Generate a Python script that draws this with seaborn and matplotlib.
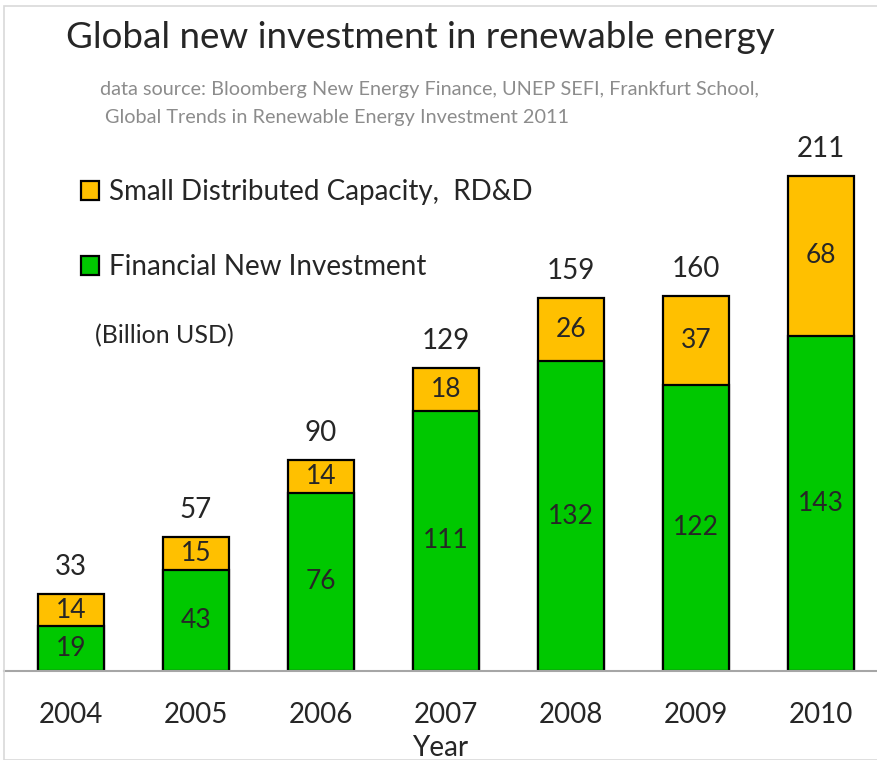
import matplotlib.pyplot as plt
import seaborn as sns
from matplotlib.patches import Rectangle

# values (billion USD)
years = ['2004', '2005', '2006', '2007', '2008', '2009', '2010']
financial = [19, 43, 76, 111, 132, 122, 143]
small_rdd = [14, 15, 14, 18, 26, 37, 68]
totals = [33, 57, 90, 129, 159, 160, 211]

GREEN = '#00c800'
ORANGE = '#ffc000'
FONT = 'Lato'

W, H = 877, 760
PX_PER_UNIT = 2.346


def fx(px):
    return px / W


def fy(py):
    return 1 - py / H


sns.set_theme(style='white')
plt.rcParams['font.family'] = [FONT, 'DejaVu Sans']

fig = plt.figure(figsize=(W / 100, H / 100), dpi=100, facecolor='white')
ax = fig.add_axes([fx(4), fy(671), 1 - fx(4), 671 / H])

# stacked bars: total in orange underneath, green financial on top
sns.barplot(x=years, y=totals, color=ORANGE, saturation=1, width=0.53,
            edgecolor='black', linewidth=1.6, label='Small Distributed Capacity,  RD&D', ax=ax)
sns.barplot(x=years, y=financial, color=GREEN, saturation=1, width=0.53,
            edgecolor='black', linewidth=1.6, label='Financial New Investment', ax=ax)

ax.set_xlim(-0.536, 6.448)
ax.set_ylim(0, 671 / PX_PER_UNIT)

for i, (g, o, t) in enumerate(zip(financial, small_rdd, totals)):
    ax.text(i, g / 2, str(g), ha='center', va='center', fontsize=19)
    ax.text(i, t - (t - g) / 2, str(o), ha='center', va='center', fontsize=19)
    ax.text(i, t + 27 / PX_PER_UNIT, str(t), ha='center', va='center', fontsize=20)

for s in ['top', 'left', 'right']:
    ax.spines[s].set_visible(False)
ax.spines['bottom'].set_color('#a6a6a6')
ax.spines['bottom'].set_linewidth(1.5)
ax.set_yticks([])
ax.tick_params(axis='x', length=0, pad=22.5, labelsize=20)
ax.set_xlabel('Year', fontsize=20, labelpad=5)
ax.set_ylabel('')

leg = ax.legend(loc='upper left', bbox_to_anchor=(fx(70), fy(168)),
                bbox_transform=fig.transFigure, frameon=False, fontsize=20,
                handlelength=0.65, handleheight=0.65, handletextpad=0.35,
                labelspacing=1.77, borderaxespad=0)

fig.text(fx(95), fy(336), '(Billion USD)', fontsize=18, va='center', ha='left')

fig.text(fx(420), fy(38), 'Global new investment in renewable energy',
         fontsize=26.5, ha='center', va='center')
fig.text(fx(100), fy(90), 'data source: Bloomberg New Energy Finance, UNEP SEFI, Frankfurt School,',
         fontsize=14.3, color='#8c8c8c', ha='left', va='center')
fig.text(fx(105), fy(117), 'Global Trends in Renewable Energy Investment 2011',
         fontsize=14.3, color='#8c8c8c', ha='left', va='center')

# light grey frame of the original slide
fig.patches.append(Rectangle((fx(4), 0), 1.2, fy(6), transform=fig.transFigure,
                             fill=False, edgecolor='#d9d9d9', linewidth=1.2))

fig.savefig('out.png', dpi=100, facecolor='white')
